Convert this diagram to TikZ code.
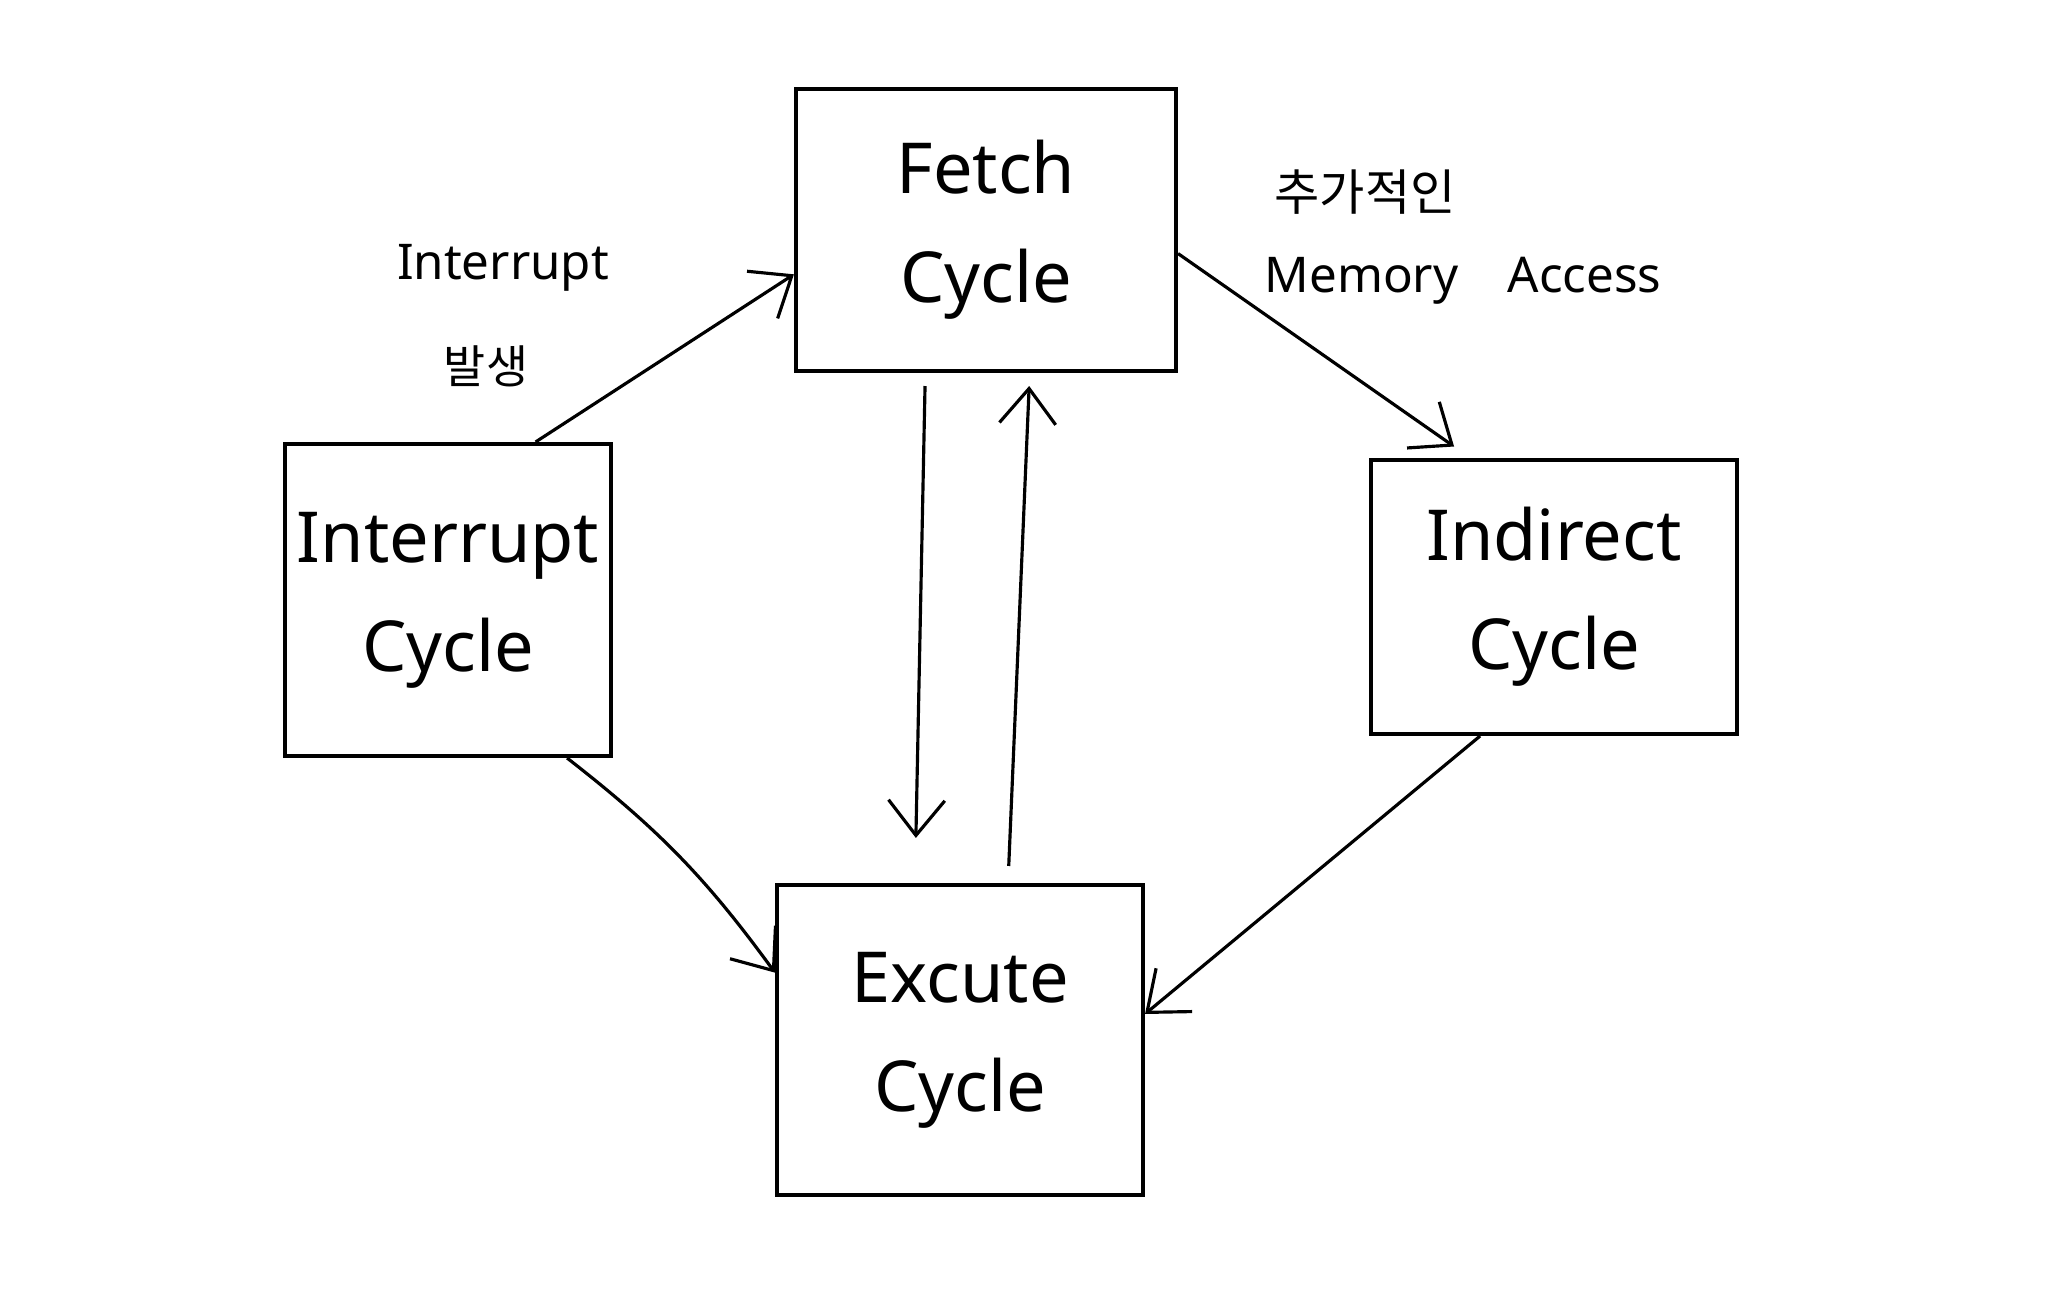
\documentclass[tikz,border=0pt]{standalone}
\usepackage{fontspec}
\setmainfont{Noto Sans}
\newfontfamily\krfont{Noto Sans CJK KR}
\usetikzlibrary{arrows.meta}

\begin{document}
\begin{tikzpicture}[x=0.01cm, y=-0.01cm,
      cyclebox/.style={rectangle, draw=black, line width=1.1pt, align=center,
                  font=\fontsize{20}{31}\selectfont, inner sep=0pt},
      flow/.style={draw=black, line width=0.9pt, -{Straight Barb[length=10pt,width=16pt,line width=0.9pt]}},
      note/.style={align=center, font=\fontsize{14}{18}\selectfont}
    ]
    \useasboundingbox (0,0) rectangle (2048,1298);
    % cycle boxes
    \node[cyclebox, minimum width=3.80cm, minimum height=2.82cm] (fetch) at (986, 230) {Fetch\\Cycle};
    \node[cyclebox, minimum width=3.26cm, minimum height=3.12cm] (intr)  at (448, 600) {Interrupt\\Cycle};
    \node[cyclebox, minimum width=3.66cm, minimum height=2.74cm] (indir) at (1554,597) {Indirect\\Cycle};
    \node[cyclebox, minimum width=3.66cm, minimum height=3.10cm] (exec)  at (960,1040) {Excute\\Cycle};
    % labels
    \node[note] (intrnote) at (503, 268) {Interrupt};
    \node[note, font=\krfont\fontsize{13}{16}\selectfont] (intrkr) at (486, 366) {발생};
    \node[note, font=\krfont\fontsize{14}{18}\selectfont] (memkr) at (1365, 192) {추가적인};
    \node[note] (memnote) at (1463, 281) {Memory\quad Access};
    % transitions
    \draw[flow] (intr.61) -- (fetch.193);
    \draw[flow, shorten >=0.2cm] (fetch.353) -- (indir.121);
    \draw[flow, shorten <=0.13cm, shorten >=0.45cm] (fetch.247) -- (exec.106);
    \draw[flow, shorten <=0.17cm, shorten >=0.13cm] (exec.73) -- (fetch.287);
    \draw[flow] (indir.242) -- (exec.8);
    \draw[flow] (intr.307) to[bend left=8] (exec.160);
  \end{tikzpicture}
\end{document}
